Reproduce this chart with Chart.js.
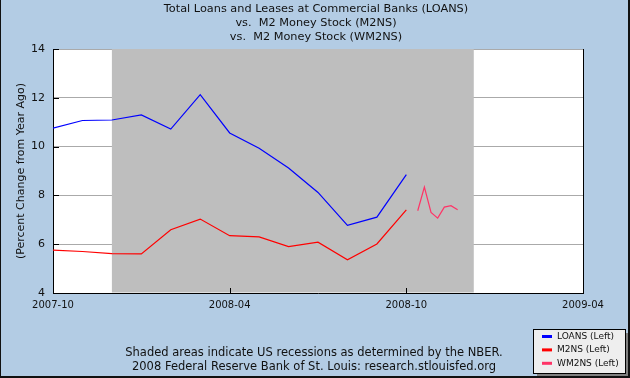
<!DOCTYPE html>
<html>
<head>
<meta charset="utf-8">
<script src="https://cdn.jsdelivr.net/npm/chart.js@4.4.1/dist/chart.umd.min.js"></script>
<style>
  html, body { margin: 0; padding: 0; background: #b3cce4; }
  #wrap { width: 630px; height: 378px; }
</style>
</head>
<body>
<div id="wrap"><canvas id="chart" width="630" height="378"></canvas></div>
<script>
// ---- data ----
const loansMonths = ['2007-10-01', '2007-11-01', '2007-12-01', '2008-01-01', '2008-02-01', '2008-03-01',
                     '2008-04-01', '2008-05-01', '2008-06-01', '2008-07-01', '2008-08-01', '2008-09-01', '2008-10-01'];
const loansValues = [10.76, 11.07, 11.09, 11.30, 10.72, 12.13, 10.56, 9.93, 9.12, 8.12, 6.77, 7.11, 8.85];
const m2nsValues  = [5.76, 5.70, 5.61, 5.60, 6.59, 7.03, 6.35, 6.30, 5.90, 6.08, 5.36, 6.01, 7.41];

const wm2nsWeeks  = ['2008-10-13', '2008-10-20', '2008-10-27', '2008-11-03', '2008-11-10', '2008-11-17', '2008-11-24'];
const wm2nsValues = [7.37, 8.34, 7.30, 7.07, 7.52, 7.58, 7.41];

const xTickLabels = ['2007-10', '2008-04', '2008-10', '2009-04'];
const recession = ['2007-12-01', '2008-12-10'];

const titleLines = ['Total Loans and Leases at Commercial Banks (LOANS)',
                    'vs.  M2 Money Stock (M2NS)',
                    'vs.  M2 Money Stock (WM2NS)'];
const noteLines = ['Shaded areas indicate US recessions as determined by the NBER.',
                   '2008 Federal Reserve Bank of St. Louis: research.stlouisfed.org'];

// months since 2007-10
function toMonths(s) {
    const p = s.split('-').map(Number);
    const day = p[2] || 1;
    return (p[0] - 2007) * 12 + (p[1] - 10) + (day - 1) / 31;
}

const pts = (dates, vals) => dates.map((d, i) => ({ x: toMonths(d), y: vals[i] }));
const xTickValues = xTickLabels.map(toMonths);

const FONT = 'DejaVu Sans';

const chrome = {
    id: 'chrome',
    beforeDraw(chart) {
        const { ctx, chartArea: a } = chart;
        ctx.save();
        ctx.fillStyle = '#b3cce4';
        ctx.fillRect(0, 0, chart.width, chart.height);
        ctx.fillStyle = '#ffffff';
        ctx.fillRect(a.left, a.top, a.right - a.left, a.bottom - a.top);
        ctx.restore();
    },
    beforeDatasetsDraw(chart) {
        const { ctx, chartArea: a, scales: { x } } = chart;
        const x0 = x.getPixelForValue(toMonths(recession[0]));
        const x1 = x.getPixelForValue(toMonths(recession[1]));
        ctx.save();
        ctx.fillStyle = '#bebebe';
        ctx.fillRect(x0, a.top, x1 - x0, a.bottom - a.top - 0.5);
        ctx.restore();
    },
    afterDatasetsDraw(chart) {
        const { ctx, chartArea: a, scales: { x, y } } = chart;
        ctx.save();
        ctx.strokeStyle = '#000';
        ctx.lineWidth = 1;
        ctx.beginPath();
        y.ticks.forEach(t => {
            const py = Math.round(y.getPixelForValue(t.value)) + 0.5;
            ctx.moveTo(a.left, py);
            ctx.lineTo(a.left + 6, py);
        });
        x.ticks.forEach(t => {
            const px = Math.round(x.getPixelForValue(t.value)) + 0.5;
            ctx.moveTo(px, a.bottom);
            ctx.lineTo(px, a.bottom - 5);
        });
        // right frame
        ctx.moveTo(Math.round(a.right) + 0.5, a.top);
        ctx.lineTo(Math.round(a.right) + 0.5, a.bottom);
        ctx.stroke();
        ctx.restore();
    },
    afterDraw(chart) {
        const { ctx } = chart;
        ctx.save();
        ctx.fillStyle = '#111';
        ctx.textAlign = 'center';
        ctx.textBaseline = 'middle';
        ctx.font = '11.3px "' + FONT + '"';
        titleLines.forEach((t, i) => ctx.fillText(t, 316, 9.5 + i * 13.7));
        ctx.font = '11.5px "' + FONT + '"';
        noteLines.forEach((t, i) => ctx.fillText(t, 314, 353 + i * 14.5));

        // legend box with shadow
        const lx = 533, ly = 329, lw = 92, lh = 44;
        ctx.fillStyle = '#808080';
        ctx.fillRect(lx + 4, ly + 4, lw, lh);
        ctx.fillStyle = '#eeeeee';
        ctx.fillRect(lx, ly, lw, lh);
        ctx.strokeStyle = '#000';
        ctx.lineWidth = 1;
        ctx.strokeRect(lx + 0.5, ly + 0.5, lw, lh);
        ctx.font = '9px "' + FONT + '"';
        ctx.textAlign = 'left';
        chart.data.datasets.forEach((ds, i) => {
            const cy = ly + 7 + i * 13.4;
            ctx.fillStyle = ds.borderColor;
            ctx.fillRect(lx + 9, cy - 1, 10, 3);
            ctx.fillStyle = '#111';
            ctx.fillText(ds.label, lx + 24, cy + 0.5);
        });

        // outer frame
        ctx.fillStyle = '#111';
        ctx.fillRect(0, 0, 1, chart.height);
        ctx.fillRect(chart.width - 2, 0, 2, chart.height);
        ctx.fillRect(0, chart.height - 2, chart.width, 2);
        ctx.restore();
    }
};

const lineStyle = { borderWidth: 1.2, pointRadius: 0, tension: 0, fill: false };

new Chart(document.getElementById('chart').getContext('2d'), {
    type: 'line',
    data: {
        datasets: [
            { label: 'LOANS (Left)', data: pts(loansMonths, loansValues), borderColor: '#0000ff', ...lineStyle },
            { label: 'M2NS (Left)', data: pts(loansMonths, m2nsValues), borderColor: '#ff0000', ...lineStyle },
            { label: 'WM2NS (Left)', data: pts(wm2nsWeeks, wm2nsValues), borderColor: '#ff3366', ...lineStyle }
        ]
    },
    options: {
        responsive: false,
        animation: false,
        devicePixelRatio: 1,
        layout: { padding: { left: 0, right: 47, top: 49, bottom: 65 } },
        plugins: {
            legend: { display: false },
            title: { display: false },
            tooltip: { enabled: false }
        },
        scales: {
            x: {
                type: 'linear',
                min: 0,
                max: 18,
                afterBuildTicks(s) { s.ticks = xTickValues.map(v => ({ value: v })); },
                afterFit(s) { s.height = 20; },
                ticks: {
                    autoSkip: false,
                    maxRotation: 0,
                    padding: 6,
                    color: '#111',
                    font: { family: FONT, size: 10 },
                    callback: v => xTickLabels[xTickValues.indexOf(v)]
                },
                grid: { display: false, drawTicks: false },
                border: { color: '#000', width: 1 }
            },
            y: {
                min: 4,
                max: 14,
                afterFit(s) { s.width = 53; },
                ticks: {
                    stepSize: 2,
                    padding: 8,
                    color: '#111',
                    font: { family: FONT, size: 11 }
                },
                grid: { color: '#aaaaaa', drawTicks: false },
                border: { color: '#000', width: 1 },
                title: {
                    display: true,
                    text: '(Percent Change from Year Ago)',
                    color: '#111',
                    font: { family: FONT, size: 11 },
                    padding: { top: 15, bottom: 0 }
                }
            }
        }
    },
    plugins: [chrome]
});
</script>
</body>
</html>
